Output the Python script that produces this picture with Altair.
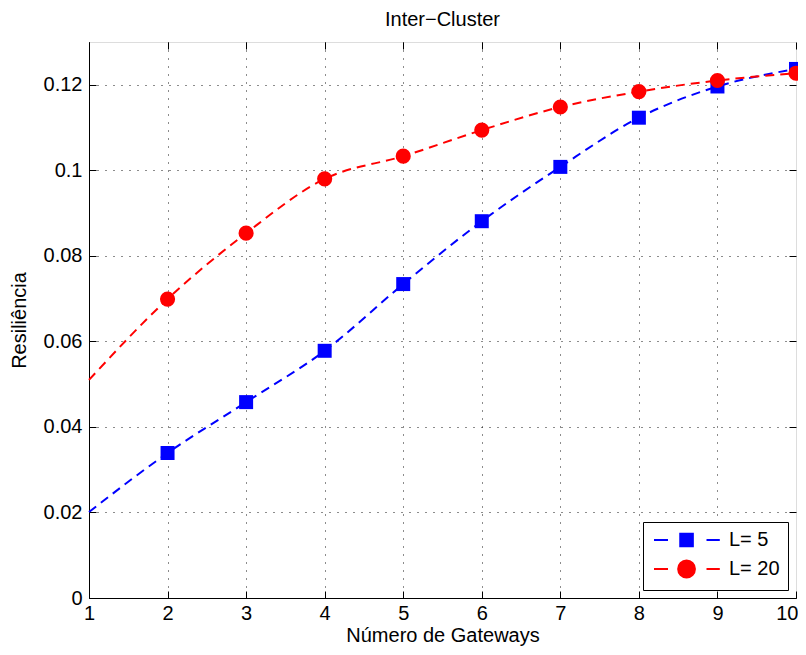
import altair as alt
import pandas as pd

# ---- data ----
gateways = [1, 2, 3, 4, 5, 6, 7, 8, 9, 10]
l5_values = [0.0201, 0.0339, 0.0458, 0.0578, 0.0734, 0.0881, 0.1008, 0.1123, 0.1196, 0.1237]
l20_values = [0.0510, 0.0699, 0.0853, 0.0980, 0.1033, 0.1094, 0.1148, 0.1184, 0.1210, 0.1227]
series_names = ["L= 5", "L= 20"]
series_colors = ["#0000FF", "#FF0000"]
x_ticks = [1, 2, 3, 4, 5, 6, 7, 8, 9, 10]
y_ticks = [0, 0.02, 0.04, 0.06, 0.08, 0.1, 0.12]

rows = []
for g, v in zip(gateways, l5_values):
    rows.append({"gateways": g, "value": v, "series": series_names[0]})
for g, v in zip(gateways, l20_values):
    rows.append({"gateways": g, "value": v, "series": series_names[1]})
df = pd.DataFrame(rows)

W, H = 707, 556
FONT = "Liberation Sans"
FS = 20

xscale = alt.Scale(domain=[1, 10], nice=False, zero=False)
yscale = alt.Scale(domain=[0, 0.13], nice=False)

grid_axis_common = dict(
    grid=True, gridColor="#000000", gridDash=[1, 7], gridWidth=1, gridOpacity=0.9,
    labelFont=FONT, labelFontSize=FS, labelColor="#000000", labelFlush=False,
    titleFont=FONT, titleFontSize=FS, titleFontWeight="normal", titleColor="#000000",
    domain=True, domainColor="#000000", domainWidth=1, ticks=False,
)

x_main = alt.Axis(orient="bottom", values=x_ticks[:-1], title="Número de Gateways",
                  labelPadding=5, titlePadding=2, format="d", **grid_axis_common)
y_main = alt.Axis(orient="left", values=y_ticks, title="Resiliência",
                  labelPadding=7, titlePadding=14, format=".2~f", **grid_axis_common)

# last x label kept inside the page
x_last_label = alt.Axis(orient="bottom", values=x_ticks[-1:], format="d", grid=False, ticks=False,
                        domain=False, title=None, labelFont=FONT, labelFontSize=FS,
                        labelColor="#000000", labelPadding=5, labelFlush=True, labelFlushOffset=2)

tick_common = dict(labels=False, grid=False, domain=False, ticks=True, tickSize=7,
                   tickColor="#000000", tickWidth=1, title=None)

# inward ticks via offset axes
x_ticks_bottom = alt.Axis(orient="top", offset=-H, values=x_ticks, **tick_common)
x_ticks_top = alt.Axis(orient="bottom", offset=-H, values=x_ticks, **tick_common)
y_ticks_left = alt.Axis(orient="right", offset=-W, values=y_ticks, **tick_common)
y_ticks_right = alt.Axis(orient="left", offset=-W, values=y_ticks, **tick_common)

# line colour scale (listed in reverse order so it is not merged with the legend scales)
line_color_scale = alt.Scale(domain=series_names[::-1], range=series_colors[::-1])

lines = alt.Chart(df).mark_line(strokeWidth=2, strokeDash=[9, 6], interpolate="monotone").encode(
    x=alt.X("gateways:Q", scale=xscale, axis=x_main),
    y=alt.Y("value:Q", scale=yscale, axis=y_main),
    color=alt.Color("series:N", scale=line_color_scale, legend=None),
    detail="series:N",
)

squares = alt.Chart(df).transform_filter(
    (alt.datum.series == series_names[0]) & (alt.datum.gateways >= 2)
).mark_square(size=196, color=series_colors[0], opacity=1).encode(
    x=alt.X("gateways:Q", scale=xscale, axis=x_ticks_bottom),
    y=alt.Y("value:Q", scale=yscale, axis=y_ticks_left),
)

circles = alt.Chart(df).transform_filter(
    (alt.datum.series == series_names[1]) & (alt.datum.gateways >= 2)
).mark_circle(size=230, color=series_colors[1], opacity=1).encode(
    x=alt.X("gateways:Q", scale=xscale, axis=x_ticks_top),
    y=alt.Y("value:Q", scale=yscale, axis=y_ticks_right),
)

# legend symbols: dash - marker - dash
square_path = "M-1,0H1M2.75,-0.9H4.55V0.9H2.75ZM6.5,0H8.4"
circle_path = "M-1,0H1M2.45,0A1.2,1.2,0,1,0,4.85,0A1.2,1.2,0,1,0,2.45,0ZM6.5,0H8.4"

legend = alt.Legend(
    title=None, orient="bottom-right", offset=8,
    fillColor="#FFFFFF", strokeColor="#000000", padding=8,
    labelFont=FONT, labelFontSize=FS, labelColor="#000000",
    symbolSize=196, symbolStrokeWidth=2, labelOffset=58, rowPadding=5,
    symbolOpacity=1,
)

# legend-only layer (its marks are fully transparent)
legend_layer = alt.Chart(df).mark_point(filled=True, opacity=0).encode(
    x=alt.X("gateways:Q", scale=xscale, axis=x_last_label),
    y=alt.Y("value:Q", scale=yscale, axis=None),
    shape=alt.Shape("series:N", scale=alt.Scale(domain=series_names, range=[square_path, circle_path]), legend=legend),
    fill=alt.Fill("series:N", scale=alt.Scale(domain=series_names, range=series_colors), legend=legend),
    stroke=alt.Stroke("series:N", scale=alt.Scale(domain=series_names, range=series_colors), legend=legend),
)

chart = alt.layer(lines, squares, circles, legend_layer).resolve_axis(
    x="independent", y="independent"
).properties(
    width=W, height=H,
    title=alt.TitleParams("Inter−Cluster", font=FONT, fontSize=FS, fontWeight="normal",
                          color="#000000", offset=12, anchor="middle"),
    autosize=alt.AutoSizeParams(type="none"),
    padding={"left": 81, "top": 34, "right": 2, "bottom": 49},
).configure_view(stroke="#000000", strokeWidth=1).configure(background="#FFFFFF")

chart.save("out.html", embed_options={"renderer": "svg", "actions": False})
